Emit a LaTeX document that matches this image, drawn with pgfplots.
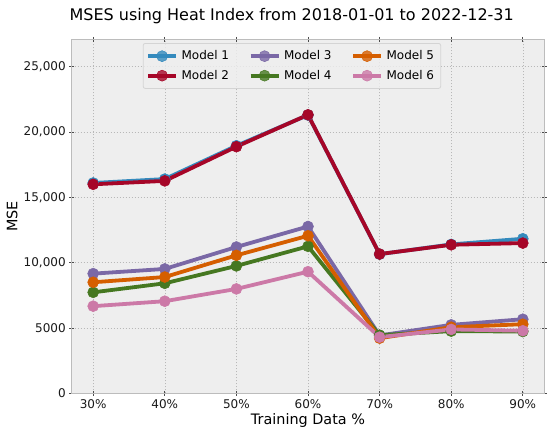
\documentclass[border=0pt]{standalone}
\usepackage{pgfplots}
\pgfplotsset{compat=1.18}
\usepackage{fontspec}
\setmainfont{DejaVu Sans}
\definecolor{c1}{HTML}{348ABD}
\definecolor{c2}{HTML}{A60628}
\definecolor{c3}{HTML}{7A68A6}
\definecolor{c4}{HTML}{467821}
\definecolor{c5}{HTML}{D55E00}
\definecolor{c6}{HTML}{CC79A7}
\definecolor{axbg}{HTML}{EEEEEE}
\definecolor{axedge}{HTML}{BCBCBC}
\definecolor{gridc}{HTML}{B8B8B8}
\definecolor{legedge}{HTML}{D4D4D4}
\begin{document}
\begin{tikzpicture}
\useasboundingbox (0,0) rectangle (550bp,433bp);
\node[anchor=base, font=\fontsize{16bp}{19bp}\selectfont] at (291.7bp,412.5bp) {MSES using Heat Index from 2018-01-01 to 2022-12-31};
\begin{axis}[
  at={(71.7bp,39.7bp)}, anchor=south west,
  scale only axis, width=472.6bp, height=354bp,
  xmin=-0.3, xmax=6.3, ymin=0, ymax=27100,
  scaled y ticks=false,
  axis background/.style={fill=axbg},
  axis line style={draw=axedge, line width=1bp},
  xtick={0,1,2,3,4,5,6},
  xticklabels={30\%,40\%,50\%,60\%,70\%,80\%,90\%},
  ytick={0,5000,10000,15000,20000,25000},
  yticklabels={0,5000,{10,000},{15,000},{20,000},{25,000}},
  tick align=center, major tick length=5bp,
  tick style={color=black!70, line width=0.8bp},
  ticklabel style={font=\fontsize{12bp}{14bp}\selectfont, text=black!90},
  grid=major,
  major grid style={color=gridc, line width=0.5bp, dash pattern=on 1.5bp off 1.5bp},
  xlabel={Training Data \%}, ylabel={MSE},
  label style={font=\fontsize{14.4bp}{17bp}\selectfont},
  xlabel style={at={(axis description cs:0.5,-0.0876)}, anchor=base},
  ylabel style={at={(axis description cs:-0.1263,0.5)}, anchor=center},
  every axis plot/.append style={line width=3.8bp, mark=*, mark size=5.5bp},
  legend columns=2,
  legend transposed=true,
  legend cell align=left,
  legend image code/.code={\draw[mark repeat=2,mark phase=2,#1] plot coordinates {(0bp,0bp) (14bp,0bp) (28bp,0bp)};},
  legend style={at={(axis description cs:0.466,0.9895)}, anchor=north,
    fill=axbg, fill opacity=0.8, draw opacity=1, text opacity=1,
    draw=legedge, line width=0.8bp, rounded corners=2bp,
    font=\fontsize{12bp}{14bp}\selectfont, inner xsep=3bp, inner ysep=3bp,
    nodes={inner sep=3.6bp, text height=9.5bp, text depth=2.8bp},
    /tikz/every even column/.append style={column sep=16bp}},
]
\addplot[color=c1, mark options={fill=c1, draw=c1, line width=0.5bp}] coordinates {(0,16100) (1,16400) (2,18950) (3,21300) (4,10650) (5,11400) (6,11830)};
\addlegendentry{Model 1}
\addplot[color=c2, mark options={fill=c2, draw=c2, line width=0.5bp}] coordinates {(0,16000) (1,16260) (2,18880) (3,21320) (4,10660) (5,11370) (6,11500)};
\addlegendentry{Model 2}
\addplot[color=c3, mark options={fill=c3, draw=c3, line width=0.5bp}] coordinates {(0,9160) (1,9520) (2,11200) (3,12770) (4,4430) (5,5240) (6,5670)};
\addlegendentry{Model 3}
\addplot[color=c4, mark options={fill=c4, draw=c4, line width=0.5bp}] coordinates {(0,7730) (1,8420) (2,9750) (3,11250) (4,4450) (5,4760) (6,4730)};
\addlegendentry{Model 4}
\addplot[color=c5, mark options={fill=c5, draw=c5, line width=0.5bp}] coordinates {(0,8500) (1,8900) (2,10560) (3,12060) (4,4220) (5,5060) (6,5290)};
\addlegendentry{Model 5}
\addplot[color=c6, mark options={fill=c6, draw=c6, line width=0.5bp}] coordinates {(0,6670) (1,7050) (2,7990) (3,9310) (4,4300) (5,4890) (6,4790)};
\addlegendentry{Model 6}
\end{axis}
\end{tikzpicture}
\end{document}
